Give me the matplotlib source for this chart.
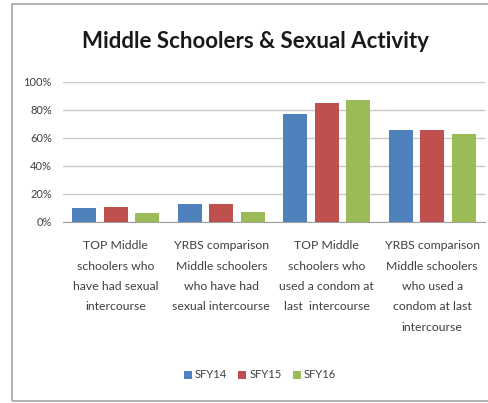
import matplotlib
matplotlib.use("Agg")
import matplotlib.pyplot as plt
import numpy as np
from matplotlib.patches import Rectangle

categories = [
    "TOP Middle\nschoolers who\nhave had sexual\nintercourse",
    "YRBS comparison\nMiddle schoolers\nwho have had\nsexual intercourse",
    "TOP Middle\nschoolers who\nused a condom at\nlast  intercourse",
    "YRBS comparison\nMiddle schoolers\nwho used a\ncondom at last\nintercourse",
]
series_names = ["SFY14", "SFY15", "SFY16"]
sfy14 = [10, 13, 77, 66]
sfy15 = [10.5, 13, 85, 66]
sfy16 = [6.5, 7.5, 87, 63]
colors = ["#4F81BD", "#C0504D", "#9BBB59"]
yticks = [0, 20, 40, 60, 80, 100]
ytick_labels = ["0%", "20%", "40%", "60%", "80%", "100%"]

fam = ["Lato", "DejaVu Sans"]

fig = plt.figure(figsize=(4.89, 4.03), dpi=100)
fig.patch.set_facecolor("white")
fig.patches.append(Rectangle((12/489, 2/403), 1.2, 397/403, transform=fig.transFigure,
                             fill=False, edgecolor="#A6A6A6", linewidth=1.2))

ax = fig.add_axes([63/489, 181/403, 422/489, 140/403])
x = np.arange(len(categories))
w = 0.226
off = 0.30
for i, (vals, c, n) in enumerate(zip([sfy14, sfy15, sfy16], colors, series_names)):
    ax.bar(x + (i - 1) * off, vals, width=w, color=c, label=n, zorder=3)

ax.set_xlim(-0.5, 3.5)
ax.set_ylim(0, 100)
ax.set_yticks(yticks)
ax.set_yticklabels(ytick_labels, fontsize=8, family=fam, color="#404040")
ax.set_xticks(x)
ax.set_xticklabels(categories, fontsize=8.8, family=fam, color="#404040",
                   va="top", linespacing=2.05)
ax.tick_params(axis="y", length=0, pad=8)
ax.tick_params(axis="x", length=0, pad=13)
ax.grid(axis="y", color="#C8C8C8", linewidth=1, zorder=0)
for s in ["top", "right", "left"]:
    ax.spines[s].set_visible(False)
ax.spines["bottom"].set_color("#A0A0A0")

fig.text(255/489, 1 - 42/403, "Middle Schoolers & Sexual Activity", ha="center", va="center",
         fontsize=16, fontweight="bold", family=fam, color="#1a1a1a")

fig.legend(loc="center", bbox_to_anchor=(260/489, 1 - 375/403), ncol=3, frameon=False,
           prop={"family": fam, "size": 8}, handlelength=0.7, handleheight=0.7,
           columnspacing=1.0, handletextpad=0.3, labelcolor="#404040")

fig.savefig("out.png", dpi=100)
